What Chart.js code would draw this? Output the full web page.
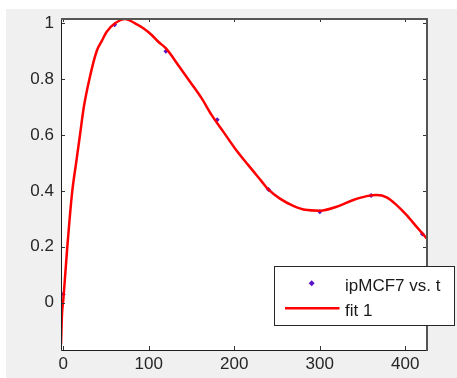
<!DOCTYPE html>
<html>
<head>
<meta charset="utf-8">
<script src="https://cdn.jsdelivr.net/npm/chart.js@4"></script>
<style>
html,body{margin:0;padding:0;background:#ffffff;}
canvas{display:block;}
</style>
</head>
<body>
<canvas id="c" width="457" height="378"></canvas>
<script>
// Data points (ipMCF7 vs. t)
const tData = [0, 60, 120, 180, 240, 300, 360, 420];
const yData = [0.03, 0.995, 0.90, 0.655, 0.405, 0.325, 0.383, 0.245];

// Fitted curve (fit 1)
const fitT = [-2.7, -1.5, 0.0, 2.0, 4.7, 7.4, 10.5, 15.0, 19.5, 24.0, 30.5, 39.0, 44.9, 50.8, 60.5, 72.2, 83.9, 93.6, 103.4, 111.1, 120.1, 134.5, 148.2, 161.9, 173.6, 187.1, 200.8, 216.4, 232.0, 239.8, 253.4, 269.0, 282.7, 300.2, 319.8, 339.2, 354.9, 366.5, 378.2, 389.9, 401.6, 413.3, 425.0];
const fitY = [-0.15, -0.04, 0.01, 0.09, 0.2, 0.3, 0.4, 0.5, 0.6, 0.7, 0.8, 0.9, 0.936, 0.970, 1.000, 1.015, 1.000, 0.982, 0.958, 0.934, 0.910, 0.850, 0.791, 0.731, 0.671, 0.612, 0.552, 0.492, 0.434, 0.405, 0.372, 0.346, 0.332, 0.329, 0.343, 0.367, 0.381, 0.385, 0.377, 0.349, 0.313, 0.271, 0.230];

const xTicks = [0, 100, 200, 300, 400];
const yTicks = [0, 0.2, 0.4, 0.6, 0.8, 1];
const xRange = [-2.7, 425.4];
const yRange = [-0.17, 1.019];

const seriesLabels = ['ipMCF7 vs. t', 'fit 1'];

const FONT = 'Liberation Sans, Arial, sans-serif';
const pointColor = '#5a14c8';
const lineColor = '#ff0000';

const bgPlugin = {
  id: 'bg',
  beforeDraw(chart) {
    const ctx = chart.ctx, a = chart.chartArea;
    ctx.save();
    ctx.fillStyle = '#ffffff';
    ctx.fillRect(0, 0, chart.width, chart.height);
    ctx.fillStyle = '#f0f0f0';
    ctx.fillRect(6, 9, chart.width - 6, chart.height - 9);
    ctx.fillStyle = '#ffffff';
    ctx.fillRect(a.left, a.top, a.right - a.left, a.bottom - a.top);
    ctx.restore();
  }
};

const boxPlugin = {
  id: 'box',
  afterDraw(chart) {
    const ctx = chart.ctx, a = chart.chartArea;
    const xs = chart.scales.x, ys = chart.scales.y;
    ctx.save();
    // ticks
    ctx.strokeStyle = '#333333';
    ctx.lineWidth = 1;
    const tl = 4;
    ctx.beginPath();
    xTicks.forEach(v => {
      const px = Math.round(xs.getPixelForValue(v)) + 0.5;
      ctx.moveTo(px, a.bottom); ctx.lineTo(px, a.bottom - tl);
      ctx.moveTo(px, a.top); ctx.lineTo(px, a.top + tl);
    });
    yTicks.forEach(v => {
      const py = Math.round(ys.getPixelForValue(v)) + 0.5;
      ctx.moveTo(a.left, py); ctx.lineTo(a.left + tl, py);
      ctx.moveTo(a.right, py); ctx.lineTo(a.right - tl, py);
    });
    ctx.stroke();
    // box
    ctx.strokeStyle = '#1e1e1e';
    ctx.lineWidth = 1;
    ctx.beginPath();
    ctx.moveTo(a.left + 0.5, a.top);
    ctx.lineTo(a.left + 0.5, a.bottom + 0.5);
    ctx.lineTo(a.right, a.bottom + 0.5);
    ctx.stroke();
    ctx.strokeStyle = '#555555';
    ctx.lineWidth = 2;
    ctx.beginPath();
    ctx.moveTo(a.left, a.top + 1);
    ctx.lineTo(a.right, a.top + 1);
    ctx.lineTo(a.right, a.bottom + 1);
    ctx.stroke();

    // legend
    const lx = 274.5, ly = 266.5, lw = 180, lh = 59;
    ctx.fillStyle = '#ffffff';
    ctx.fillRect(lx, ly, lw, lh);
    ctx.strokeStyle = '#262626';
    ctx.lineWidth = 1;
    ctx.strokeRect(lx, ly, lw, lh);
    // marker
    ctx.fillStyle = pointColor;
    ctx.beginPath();
    const mx = 311.7, my = 283.3, r = 3;
    ctx.moveTo(mx, my - r); ctx.lineTo(mx + r, my); ctx.lineTo(mx, my + r); ctx.lineTo(mx - r, my);
    ctx.closePath(); ctx.fill();
    // line
    ctx.strokeStyle = lineColor;
    ctx.lineWidth = 2.5;
    ctx.beginPath();
    ctx.moveTo(285, 308.3); ctx.lineTo(339.5, 308.3);
    ctx.stroke();
    // text
    ctx.fillStyle = '#1a1a1a';
    ctx.font = '17px ' + FONT;
    ctx.textBaseline = 'alphabetic';
    ctx.textAlign = 'left';
    ctx.fillText(chart.data.datasets[1].label, 345, 290.5);
    ctx.fillText(chart.data.datasets[0].label, 345, 316);
    ctx.restore();
  }
};

new Chart(document.getElementById('c'), {
  type: 'scatter',
  data: {
    datasets: [
      {
        type: 'line',
        label: seriesLabels[1],
        data: fitT.map((t, i) => ({ x: t, y: fitY[i] })),
        borderColor: lineColor,
        borderWidth: 2.5,
        pointRadius: 0,
        fill: false,
        cubicInterpolationMode: 'monotone',
        order: 0
      },
      {
        type: 'scatter',
        label: seriesLabels[0],
        data: tData.map((t, i) => ({ x: t, y: yData[i] })),
        backgroundColor: pointColor,
        borderColor: pointColor,
        pointStyle: 'rectRot',
        pointRadius: 2.5,
        borderWidth: 0,
        order: 1
      }
    ]
  },
  options: {
    responsive: false,
    animation: false,
    devicePixelRatio: 1,
    layout: { padding: { left: 0, top: 18, right: 30, bottom: 0 } },
    plugins: { legend: { display: false }, tooltip: { enabled: false } },
    scales: {
      x: {
        type: 'linear',
        min: xRange[0], max: xRange[1],
        grid: { display: false, drawTicks: false },
        border: { display: false },
        afterBuildTicks: s => { s.ticks = xTicks.map(v => ({ value: v })); },
        afterFit: s => { s.height = 28; },
        ticks: {
          autoSkip: false, maxRotation: 0, padding: 4,
          color: '#262626',
          font: { family: FONT, size: 17 },
          callback: v => String(v)
        }
      },
      y: {
        type: 'linear',
        min: yRange[0], max: yRange[1],
        grid: { display: false, drawTicks: false },
        border: { display: false },
        afterBuildTicks: s => { s.ticks = yTicks.map(v => ({ value: v })); },
        afterFit: s => { s.width = 61; },
        ticks: {
          autoSkip: false, padding: 7,
          color: '#262626',
          font: { family: FONT, size: 17 },
          callback: v => String(v)
        }
      }
    }
  },
  plugins: [bgPlugin, boxPlugin]
});
</script>
</body>
</html>
